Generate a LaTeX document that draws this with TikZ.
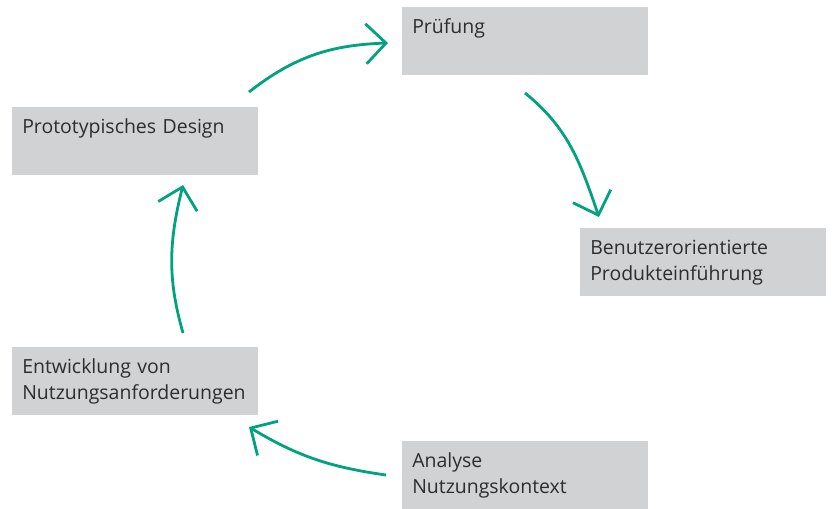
\documentclass[tikz,border=0pt]{standalone}
\usepackage{fontspec}
\setmainfont{Open Sans}
\usepackage{tikz}
\usetikzlibrary{arrows.meta}

\definecolor{boxgray}{RGB}{209,210,212}
\definecolor{cyclegreen}{RGB}{0,163,125}
\definecolor{labelgray}{RGB}{45,45,45}

\begin{document}
\begin{tikzpicture}[x=0.75pt, y=0.75pt,
    every node/.style={fill=boxgray, anchor=north west, text=labelgray,
        text width=169.5pt, align=left, inner xsep=7.5pt, inner ysep=7.5pt,
        text height=12pt, text depth=24pt,
        font=\fontsize{14.6pt}{19.5pt}\selectfont},
    cycle/.style={draw=cyclegreen, line width=2.1pt,
        -{Straight Barb[length=15pt, width=30pt]}}]
        \useasboundingbox (0,0) rectangle (833,508);

        % Steps
        \node (pruefung) at (402,501) {Prüfung};
        \node (design) at (12,401) {Prototypisches Design};
        \node (einfuehrung) at (580,280) {Benutzerorientierte\\Produkteinführung};
        \node (anforderungen) at (12,161) {Entwicklung von\\Nutzungsanforderungen};
        \node (analyse) at (402,67) {Analyse\\Nutzungskontext};

        % Arrow ends
        \coordinate (a1) at (249,416);
        \coordinate (b1) at (388,465);
        \coordinate (a2) at (525,415);
        \coordinate (b2) at (599,291);
        \coordinate (a3) at (386,33);
        \coordinate (b3) at (249,81);
        \coordinate (a4) at (183,175);
        \coordinate (b4) at (183,323);

        % Cycle
        \draw[cycle] (a1) to[out=38, in=182] (b1);
        \draw[cycle] (a2) to[out=-39, in=109] (b2);
        \draw[cycle] (a3) to[out=172, in=-31] (b3);
        \draw[cycle] (a4) to[out=106, in=256] (b4);
    \end{tikzpicture}
\end{document}
